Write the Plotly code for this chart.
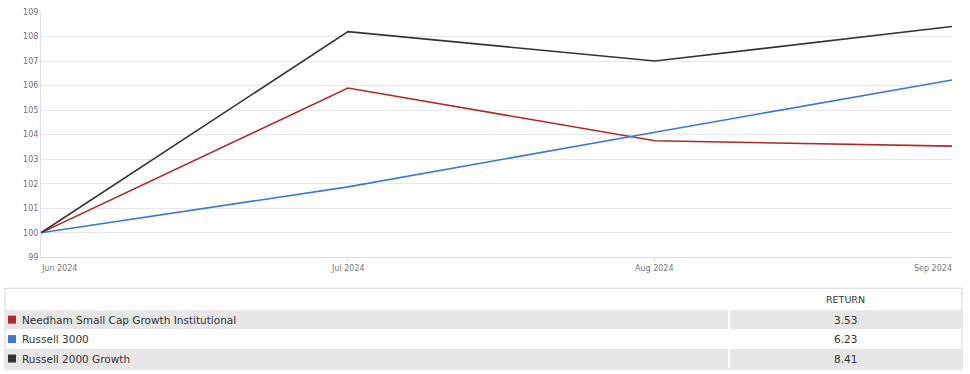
import plotly.graph_objects as go

dates = ["2024-06-30", "2024-07-31", "2024-08-31", "2024-09-30"]
months = ["Jun 2024", "Jul 2024", "Aug 2024", "Sep 2024"]
needham = [100, 105.9, 103.75, 103.53]
russell3000 = [100, 101.87, 104.1, 106.23]
russell2000g = [100, 108.2, 107.0, 108.41]

series_names = ["Needham Small Cap Growth Institutional", "Russell 3000", "Russell 2000 Growth"]
series_values = [needham, russell3000, russell2000g]
series_colors = ["#b12a2a", "#3b78d6", "#333333"]
returns = ["3.53", "6.23", "8.41"]
y_ticks = list(range(99, 110))

W, H = 970, 374
x0, x1 = 41, 952
yt, yb = 11, 257
FONT = "DejaVu Sans"


def py(y):
    # pixel row -> paper fraction (empirically calibrated)
    return (369.0 - y) / 366.0


def px(x):
    return x / W


fig = go.Figure()
for name, vals, col in zip(series_names, series_values, series_colors):
    fig.add_trace(go.Scatter(x=dates, y=vals, mode="lines", name=name,
                             line=dict(color=col, width=1.6), showlegend=False, hoverinfo="skip"))

# x tick labels (first left aligned, last right aligned)
anchors = ["left", "center", "center", "right"]
for d, m, a in zip(dates, months, anchors):
    fig.add_annotation(x=d, y=py(262), xref="x", yref="paper", text=m, showarrow=False,
                       xanchor=a, yanchor="top", xshift=(-2 if a == "left" else 2 if a == "right" else 0),
                       font=dict(size=8, color="#777", family=FONT))

# ---- table drawn with shapes + annotations ----
tx0, tx1, tdiv = 5, 962, 729
row_tops = [289, 310, 330, 349]
row_bots = [309, 329, 348, 368]
row_fills = ["white", "#e6e6e6", "white", "#e6e6e6"]
shapes = []
shapes.append(dict(type="rect", xref="paper", yref="paper", x0=px(tx0), x1=px(tx1),
                   y0=py(row_bots[-1] + 1), y1=py(row_tops[0] - 1), fillcolor="white",
                   line=dict(color="#d4d4d4", width=1), layer="below"))
for t, b, f in zip(row_tops, row_bots, row_fills):
    shapes.append(dict(type="rect", xref="paper", yref="paper", x0=px(tx0 + 1), x1=px(tx1 - 1),
                       y0=py(b), y1=py(t), fillcolor=f, line=dict(width=0), layer="below"))
shapes.append(dict(type="line", xref="paper", yref="paper", x0=px(tdiv), x1=px(tdiv),
                   y0=py(row_bots[-1]), y1=py(row_tops[0]), line=dict(color="white", width=2)))

fig.add_annotation(x=px((tdiv + tx1) / 2), y=py((row_tops[0] + row_bots[0]) / 2), xref="paper", yref="paper",
                   text="RETURN", showarrow=False, xanchor="center", yanchor="middle",
                   font=dict(size=9.5, color="#333", family=FONT))
for i, (n, c, r) in enumerate(zip(series_names, series_colors, returns)):
    t, b = row_tops[i + 1], row_bots[i + 1]
    ym = py((t + b) / 2)
    shapes.append(dict(type="rect", xref="paper", yref="paper", x0=px(8), x1=px(16),
                       y0=py((t + b) / 2 + 4), y1=py((t + b) / 2 - 4), fillcolor=c, line=dict(width=0)))
    fig.add_annotation(x=px(20), y=ym, xref="paper", yref="paper", text=n, showarrow=False,
                       xanchor="left", yanchor="middle", font=dict(size=10.5, color="#333", family=FONT))
    fig.add_annotation(x=px((tdiv + tx1) / 2), y=ym, xref="paper", yref="paper", text=r, showarrow=False,
                       xanchor="center", yanchor="middle", font=dict(size=10.5, color="#333", family=FONT))

fig.update_layout(
    width=W, height=H, margin=dict(l=0, r=0, t=0, b=0),
    plot_bgcolor="white", paper_bgcolor="white", shapes=shapes,
    xaxis=dict(domain=[x0 / W, x1 / W], type="date", range=[dates[0], dates[-1]], showgrid=False,
               showticklabels=False, showline=True, linecolor="#d5e2ea", linewidth=1, ticks="outside",
               tickvals=dates[1:3], ticklen=4, tickcolor="#d5e2ea", zeroline=False, fixedrange=True),
    yaxis=dict(domain=[py(yb), py(yt)], range=[99, 109], tickvals=y_ticks,
               showgrid=True, gridcolor="#e6e9ec", gridwidth=1, showline=True, linecolor="#d5e2ea",
               linewidth=1, ticks="", tickfont=dict(size=8, color="#776a7a", family=FONT),
               zeroline=False, fixedrange=True),
)

fig.write_html("out.html")
